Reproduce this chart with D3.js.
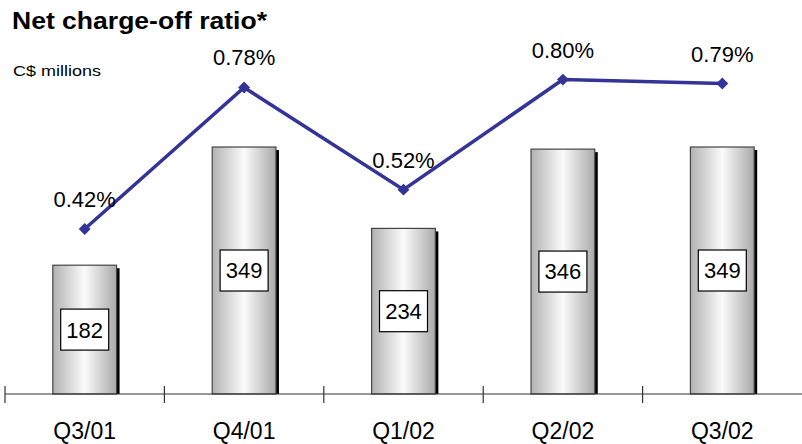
<!DOCTYPE html>
<html>
<head>
<meta charset="utf-8">
<script src="https://cdn.jsdelivr.net/npm/d3@7/dist/d3.min.js"></script>
<style>
  html, body { margin: 0; padding: 0; background: #fff; }
  svg { display: block; font-family: Arial, "Liberation Sans", Helvetica, sans-serif; }
</style>
</head>
<body>
<svg id="chart" width="802" height="444"></svg>
<script>
// Quarterly net charge-offs (C$ millions) and net charge-off ratio (%)
const quarters = ["Q3/01", "Q4/01", "Q1/02", "Q2/02", "Q3/02"];
const chargeOffs = [182, 349, 234, 346, 349];
const ratios = [0.42, 0.78, 0.52, 0.80, 0.79];

const W = 802, H = 444;
const axisY = 394;
const svg = d3.select("#chart");

const x = d3.scaleBand()
  .domain(quarters)
  .range([5, 802])
  .paddingInner(0.6)
  .paddingOuter(0.3);

const yBar = d3.scaleLinear().domain([0, 550]).range([axisY, axisY - 550 * 0.7077]);
const yRatio = d3.scaleLinear().domain([0, 1]).range([axisY, 1]);

// horizontal shading for the cylinders
const defs = svg.append("defs");
const grad = defs.append("linearGradient").attr("id", "barShade")
  .attr("x1", "0%").attr("x2", "100%").attr("y1", "0%").attr("y2", "0%");
grad.append("stop").attr("offset", "0%").attr("stop-color", "#b2b2b2");
grad.append("stop").attr("offset", "50%").attr("stop-color", "#fbfbfb");
grad.append("stop").attr("offset", "100%").attr("stop-color", "#a9a9a9");

// title
svg.append("text")
  .attr("x", 12).attr("y", 29)
  .attr("font-size", 24).attr("font-weight", "bold")
  .attr("textLength", 255).attr("lengthAdjust", "spacingAndGlyphs")
  .text("Net charge-off ratio*");

svg.append("text")
  .attr("x", 13).attr("y", 76)
  .attr("font-size", 15)
  .attr("textLength", 88).attr("lengthAdjust", "spacingAndGlyphs")
  .text("C$ millions");

const data = quarters.map((q, i) => ({ q, amount: chargeOffs[i], ratio: ratios[i] }));
const bw = x.bandwidth();

// bar shadows
svg.append("g").selectAll("rect").data(data).join("rect")
  .attr("x", d => x(d.q) + 3)
  .attr("y", d => yBar(d.amount) + 3)
  .attr("width", bw)
  .attr("height", d => axisY - yBar(d.amount) - 3)
  .attr("fill", "#000");

// bars
svg.append("g").selectAll("rect").data(data).join("rect")
  .attr("x", d => x(d.q))
  .attr("y", d => yBar(d.amount))
  .attr("width", bw)
  .attr("height", d => axisY - yBar(d.amount))
  .attr("fill", "url(#barShade)")
  .attr("stroke", "#444")
  .attr("stroke-width", 1.2);

// value boxes inside bars
const boxW = 48, boxH = 41;
const boxes = svg.append("g").selectAll("g").data(data).join("g")
  .attr("transform", d => `translate(${x(d.q) + bw / 2},${(yBar(d.amount) + axisY) / 2})`);
boxes.append("rect")
  .attr("x", -boxW / 2).attr("y", -boxH / 2)
  .attr("width", boxW).attr("height", boxH)
  .attr("fill", "#fff").attr("stroke", "#000").attr("stroke-width", 1.2);
boxes.append("text")
  .attr("text-anchor", "middle")
  .attr("dy", "0.36em")
  .attr("font-size", 22)
  .text(d => d.amount);

// x axis
const axisG = svg.append("g");
axisG.append("line")
  .attr("x1", 5).attr("x2", 802)
  .attr("y1", axisY).attr("y2", axisY)
  .attr("stroke", "#333").attr("stroke-width", 1.2);
const step = x.step();
axisG.selectAll("line.tick").data(quarters).join("line")
  .attr("class", "tick")
  .attr("x1", d => x(d) + bw / 2 - step / 2)
  .attr("x2", d => x(d) + bw / 2 - step / 2)
  .attr("y1", axisY - 8).attr("y2", axisY + 9)
  .attr("stroke", "#333").attr("stroke-width", 1.2);
axisG.selectAll("text").data(quarters).join("text")
  .attr("x", d => x(d) + bw / 2)
  .attr("y", 439)
  .attr("text-anchor", "middle")
  .attr("font-size", 23)
  .text(d => d);

// ratio line
const line = d3.line()
  .x(d => x(d.q) + bw / 2)
  .y(d => yRatio(d.ratio));
svg.append("path")
  .datum(data)
  .attr("d", line)
  .attr("fill", "none")
  .attr("stroke", "#333399")
  .attr("stroke-width", 3.5)
  .attr("stroke-linejoin", "miter");

svg.append("g").selectAll("path").data(data).join("path")
  .attr("d", d3.symbol(d3.symbolDiamond2, 90))
  .attr("transform", d => `translate(${x(d.q) + bw / 2},${yRatio(d.ratio)})`)
  .attr("fill", "#333399");

svg.append("g").selectAll("text").data(data).join("text")
  .attr("x", d => x(d.q) + bw / 2)
  .attr("y", d => yRatio(d.ratio) - 22)
  .attr("text-anchor", "middle")
  .attr("font-size", 22)
  .text(d => d.ratio.toFixed(2) + "%");
</script>
</body>
</html>
